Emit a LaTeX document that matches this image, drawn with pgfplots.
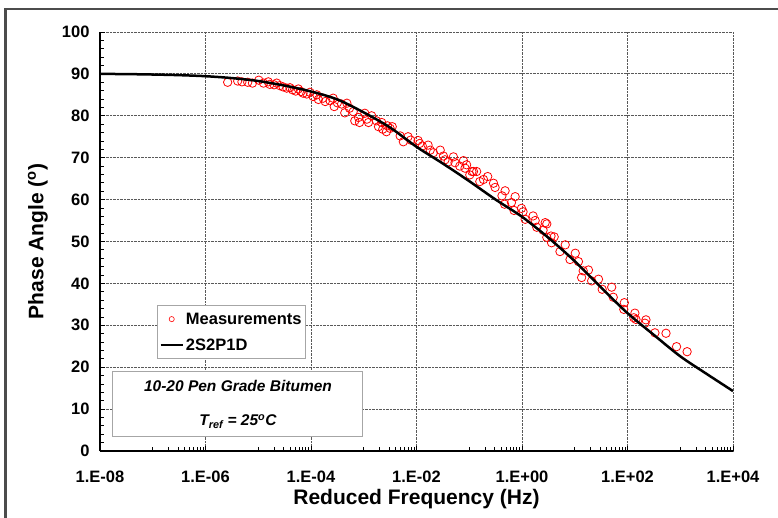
\documentclass[border=0pt]{standalone}
\usepackage{fontspec}
\setmainfont{Liberation Sans}
\usepackage{pgfplots}
\pgfplotsset{compat=1.18}

% x values are log10 of the reduced frequency (Hz)
\pgfplotstableread{
lx y
-5.58 88.0
-5.39 88.3
-5.31 88.1
-5.20 88.0
-5.11 87.8
-4.99 88.5
-4.90 87.8
-4.81 88.1
-4.78 87.5
-4.70 87.4
-4.65 87.8
-4.59 87.2
-4.53 86.9
-4.46 86.6
-4.40 86.7
-4.35 86.2
-4.29 85.9
-4.24 86.4
-4.19 85.8
-4.15 85.4
-4.08 85.2
-4.02 85.6
-3.96 84.6
-3.89 85.0
-3.86 83.9
-3.77 84.2
-3.73 83.4
-3.64 83.6
-3.58 84.2
-3.56 82.2
-3.50 83.1
-3.42 82.8
-3.32 83.0
-3.36 80.7
-3.27 81.8
-3.20 81.0
-3.17 78.8
-3.10 79.6
-3.08 78.4
-2.98 80.6
-2.94 79.2
-2.91 78.4
-2.85 80.0
-2.76 78.8
-2.72 77.4
-2.66 78.4
-2.64 76.8
-2.57 76.2
-2.55 77.6
-2.50 77.0
-2.46 77.4
-2.31 75.2
-2.25 73.8
-2.16 75.0
-2.11 74.2
-1.97 74.1
-1.94 73.4
-1.89 72.8
-1.78 73.0
-1.74 71.8
-1.68 71.2
-1.55 71.8
-1.49 70.4
-1.46 69.5
-1.40 69.0
-1.30 70.2
-1.27 68.8
-1.18 68.0
-1.11 69.3
-1.08 67.5
-1.05 68.3
-0.99 65.9
-0.95 66.7
-0.92 66.7
-0.86 66.7
-0.80 64.3
-0.73 64.8
-0.65 65.5
-0.54 63.9
-0.51 62.9
-0.38 60.9
-0.32 62.1
-0.33 58.9
-0.20 59.3
-0.13 60.7
-0.15 57.4
-0.01 57.9
0.02 57.1
0.06 55.3
0.21 56.1
0.25 55.0
0.28 53.4
0.40 52.7
0.44 54.5
0.47 51.0
0.47 54.2
0.55 51.3
0.56 49.7
0.61 51.1
0.72 47.6
0.82 49.2
0.91 45.7
1.01 47.2
1.07 45.2
1.13 41.4
1.16 43.0
1.26 43.2
1.32 40.6
1.45 41.0
1.52 38.6
1.70 39.1
1.73 36.7
1.94 35.4
1.93 33.8
2.14 32.9
2.12 31.8
2.16 31.4
2.35 31.3
2.33 30.5
2.52 28.2
2.73 28.1
2.93 24.9
3.13 23.7
}\measured

\pgfplotstableread{
lx y
-8.0 90.0
-7.5 89.95
-7.0 89.85
-6.5 89.7
-6.0 89.45
-5.5 89.0
-5.0 88.3
-4.5 87.2
-4.0 85.8
-3.5 83.9
-3.0 80.8
-2.5 77.2
-2.0 72.6
-1.5 68.6
-1.0 64.4
-0.5 60.0
0.0 55.9
0.5 50.9
1.0 45.3
1.5 39.0
2.0 32.9
2.5 27.7
3.0 22.6
3.5 18.4
4.0 14.3
}\model

\begin{document}
\begin{tikzpicture}
\useasboundingbox (-100pt,-67pt) rectangle (678pt,451pt);
\begin{axis}[
    scale only axis,
    width=633pt, height=419pt,
    at={(0,0)}, anchor=south west,
    xmin=-8, xmax=4, ymin=0, ymax=100,
    axis lines=left,
    axis line style={-, black, line width=1.2pt},
    xtick={-8,-6,-4,-2,0,2,4},
    xticklabels={1.E-08,1.E-06,1.E-04,1.E-02,1.E+00,1.E+02,1.E+04},
    minor xtick={-7,-6.699,-6.523,-6.398,-6.301,-6.222,-6.155,-6.097,-6.046,
                 -5,-4.699,-4.523,-4.398,-4.301,-4.222,-4.155,-4.097,-4.046,
                 -3,-2.699,-2.523,-2.398,-2.301,-2.222,-2.155,-2.097,-2.046,
                 -1,-0.699,-0.523,-0.398,-0.301,-0.222,-0.155,-0.097,-0.046,
                 1,1.301,1.477,1.602,1.699,1.778,1.845,1.903,1.954,
                 3,3.301,3.477,3.602,3.699,3.778,3.845,3.903,3.954},
    ytick={0,10,...,100},
    minor y tick num=4,
    tick align=inside,
    major tick length=5pt, minor tick length=4pt,
    tick style={black, line width=0.8pt},
    grid=major,
    major grid style={densely dotted, gray!70!black, line width=0.9pt},
    /pgf/number format/assume math mode=true,
    ticklabel style={font=\bfseries\fontsize{16.5}{18}\selectfont},
    xticklabel style={yshift=-16pt},
    yticklabel style={xshift=-7pt},
    xlabel={Reduced Frequency (Hz)},
    ylabel={Phase Angle (\textsuperscript{o})},
    label style={font=\bfseries\fontsize{21}{24}\selectfont},
    xlabel style={at={(axis description cs:0.5,-0.115)}, anchor=center},
    ylabel style={at={(axis description cs:-0.098,0.5)}, anchor=center},
    clip mode=individual,
    legend style={at={(axis description cs:0.090,0.348)}, anchor=north west,
        draw=gray!70, line width=1pt, fill=white,
        font=\bfseries\fontsize{16.5}{19}\selectfont,
        inner xsep=2pt, inner ysep=5pt, row sep=9pt},
    legend cell align=left,
]
\addplot[only marks, mark=o, mark size=4.2pt, red, mark options={line width=0.8pt},
    legend image code/.code={\draw[red, line width=0.6pt] (11pt,0pt) circle (2.6pt);}]
    table[x=lx, y=y] {\measured};
\addlegendentry{Measurements}
\addplot[black, line width=2.5pt, smooth, no marks,
    legend image code/.code={\draw[black, line width=2.5pt] (0pt,0pt) -- (22pt,0pt);}]
    table[x=lx, y=y] {\model};
\addlegendentry{2S2P1D}
\node[draw=gray!70, line width=1pt, fill=white, minimum width=250pt, minimum height=65pt,
    align=center, font=\bfseries\itshape\fontsize{15.5}{18}\selectfont]
    at (axis description cs:0.218,0.111)
    {10-20 Pen Grade Bitumen\\[16pt]T\textsubscript{ref} = 25\textsuperscript{o}C};
\end{axis}
\draw[gray!60!black, line width=2.5pt] (-94.5pt,-70pt) -- (-94.5pt,442pt) -- (680pt,442pt);
\end{tikzpicture}
\end{document}
